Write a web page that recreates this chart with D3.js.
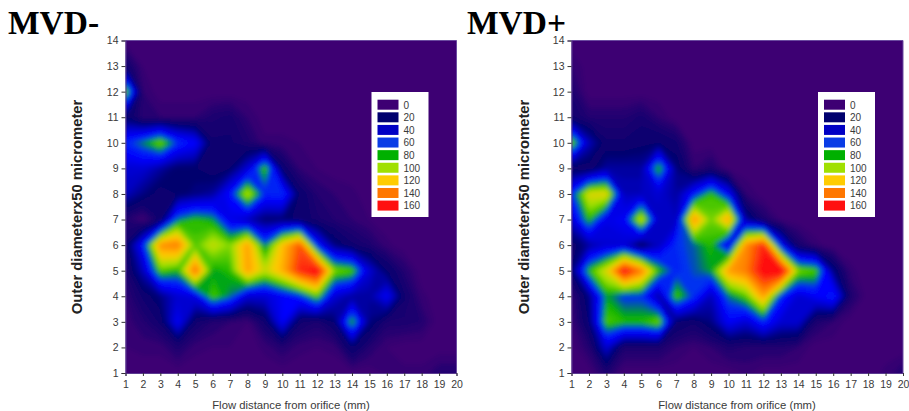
<!DOCTYPE html>
<html>
<head>
<meta charset="utf-8">
<script src="https://cdn.jsdelivr.net/npm/d3@7"></script>
<style>
  html, body { margin: 0; background: #fff; }
  svg { display: block; }
  .axis text { font-family: "Liberation Sans", sans-serif; font-size: 10.5px; fill: #3a3a3a; }
  .axis line { stroke: #333; }
  .axis path { stroke: #5a3a90; }
  .title { font-family: "Liberation Serif", serif; font-weight: bold; font-size: 33.5px; fill: #000; }
  .xlabel { font-family: "Liberation Sans", sans-serif; font-size: 11.3px; fill: #3a3a3a; text-anchor: middle; }
  .ylabel { font-family: "Liberation Sans", sans-serif; font-weight: bold; font-size: 14.8px; fill: #222; text-anchor: middle; }
  .legend text { font-family: "Liberation Sans", sans-serif; font-size: 10px; fill: #3a3a3a; }
</style>
</head>
<body>
<svg id="chart" width="909" height="411"></svg>
<script>
const xTicks = d3.range(1, 21);
const yTicks = d3.range(1, 15);

const legendValues = [0, 20, 40, 60, 80, 100, 120, 140, 160];
const legendColors = ['#3d0073', '#00006e', '#0000c4', '#0a3ce6', '#00b000', '#a0e000', '#ffcc00', '#ff7700', '#ff1010'];

// the filled surface runs brighter than the legend swatches
const fillStops = [0, 8, 20, 35, 50, 62, 75, 92, 110, 135, 158];
const fillColors = ['#3d0073', '#1c0070', '#00006e', '#0000c4', '#0000ff', '#0030f0', '#00b000', '#a0e000', '#ffcc00', '#ff7700', '#ff1010'];

// rows run from y=14 (top) to y=1, columns x=1..20
const mvdMinus = [
  [ 0, 0, 0, 0, 0, 0, 0, 0, 0, 0, 0, 0, 0, 0, 0, 0, 0, 0, 0, 0],
  [15, 2, 0, 0, 0, 0, 0, 0, 0, 0, 0, 0, 0, 0, 0, 0, 0, 0, 0, 0],
  [90, 5, 0, 0, 0, 0, 0, 0, 0, 0, 0, 0, 0, 0, 0, 0, 0, 0, 0, 0],
  [20, 6, 5, 5, 5, 10, 12, 5, 0, 0, 0, 0, 0, 0, 0, 0, 0, 0, 0, 0],
  [60, 72, 90, 62, 52, 15, 15, 10, 3, 3, 2, 0, 0, 0, 0, 0, 0, 0, 0, 0],
  [40, 40, 30, 20, 20, 15, 20, 40, 85, 18, 5, 2, 0, 0, 0, 0, 0, 0, 0, 0],
  [35, 25, 15, 20, 25, 30, 55, 100, 60, 62, 18, 8, 5, 3, 0, 0, 0, 0, 0, 0],
  [8, 0, 15, 70, 80, 75, 45, 35, 22, 22, 18, 12, 8, 5, 2, 0, 0, 0, 0, 0],
  [15, 55, 130, 135, 85, 100, 90, 125, 70, 115, 145, 55, 25, 15, 10, 3, 0, 0, 0, 0],
  [10, 35, 85, 78, 140, 75, 80, 125, 100, 120, 155, 170, 90, 85, 40, 20, 8, 0, 0, 0],
  [5, 15, 25, 40, 45, 85, 70, 40, 40, 50, 60, 85, 40, 30, 30, 50, 15, 3, 0, 0],
  [3, 8, 15, 50, 15, 8, 5, 2, 15, 50, 15, 10, 20, 80, 25, 10, 10, 8, 0, 0],
  [2, 3, 3, 10, 3, 2, 2, 0, 3, 8, 3, 2, 3, 20, 8, 2, 0, 0, 0, 0],
  [0, 0, 0, 0, 0, 0, 0, 0, 0, 0, 0, 0, 0, 0, 0, 3, 3, 3, 8, 8]
];

const mvdPlus = [
  [ 0, 0, 0, 0, 0, 0, 0, 0, 0, 0, 0, 0, 0, 0, 0, 0, 0, 0, 0, 0],
  [ 5, 0, 0, 0, 0, 0, 0, 0, 0, 0, 0, 0, 0, 0, 0, 0, 0, 0, 0, 0],
  [10, 0, 0, 0, 0, 0, 0, 0, 0, 0, 0, 0, 0, 0, 0, 0, 0, 0, 0, 0],
  [15, 8, 8, 8, 12, 5, 0, 0, 0, 0, 0, 0, 0, 0, 0, 0, 0, 0, 0, 0],
  [90, 35, 15, 15, 18, 20, 15, 0, 0, 0, 0, 0, 0, 0, 0, 0, 0, 0, 0, 0],
  [15, 15, 30, 30, 30, 82, 25, 5, 10, 0, 0, 0, 0, 0, 0, 0, 0, 0, 0, 0],
  [60, 105, 108, 35, 35, 40, 30, 55, 82, 50, 5, 0, 0, 0, 0, 0, 0, 0, 0, 0],
  [40, 80, 45, 50, 105, 35, 35, 130, 88, 125, 30, 10, 2, 0, 0, 0, 0, 0, 0, 0],
  [15, 30, 40, 40, 15, 35, 62, 68, 80, 42, 130, 155, 50, 12, 3, 0, 0, 0, 0, 0],
  [20, 80, 105, 165, 135, 80, 60, 66, 75, 125, 135, 165, 175, 90, 85, 25, 3, 0, 0, 0],
  [5, 25, 75, 62, 62, 30, 85, 62, 35, 70, 85, 125, 60, 40, 50, 60, 10, 0, 0, 0],
  [3, 20, 85, 80, 80, 90, 20, 15, 25, 50, 40, 60, 40, 40, 10, 5, 0, 0, 0, 0],
  [0, 8, 40, 10, 10, 10, 5, 2, 5, 10, 8, 8, 8, 5, 0, 0, 0, 0, 0, 0],
  [0, 0, 10, 0, 0, 0, 0, 0, 0, 0, 3, 0, 0, 0, 0, 0, 0, 0, 3, 8]
];

const svg = d3.select("#chart");
const defs = svg.append("defs");
defs.append("filter").attr("id", "soft")
  .attr("x", "-5%").attr("y", "-5%").attr("width", "110%").attr("height", "110%")
  .append("feGaussianBlur").attr("stdDeviation", 2.4);

const color = d3.scaleLinear().domain(fillStops).range(fillColors).clamp(true);
const swatch = d3.scaleOrdinal().domain(legendValues).range(legendColors);
const levels = d3.range(2, 180, 3);

function drawPanel(grid, name, opts) {
  const x = d3.scaleLinear().domain([1, 20]).range([opts.left, opts.right]);
  const y = d3.scaleLinear().domain([1, 14]).range([373, 40.5]);

  const values = grid.flat();
  const contours = d3.contours().size([20, 14]).thresholds(levels)(values);
  // grid cell i is centred on i + 0.5 in contour space
  const path = d3.geoPath(d3.geoTransform({
    point(px, py) { this.stream.point(x(px + 0.5), y(14.5 - py)); }
  }));

  const clipId = "clip-" + Math.round(opts.left);
  defs.append("clipPath").attr("id", clipId).append("rect")
    .attr("x", x(1)).attr("y", y(14))
    .attr("width", x(20) - x(1)).attr("height", y(1) - y(14));

  const plot = svg.append("g").attr("clip-path", `url(#${clipId})`)
    .append("g").attr("filter", "url(#soft)");
  plot.append("rect")
    .attr("x", x(1) - 20).attr("y", y(14) - 20)
    .attr("width", x(20) - x(1) + 40).attr("height", y(1) - y(14) + 40)
    .attr("fill", color(0));
  plot.selectAll("path").data(contours).join("path")
    .attr("d", path)
    .attr("fill", d => color(d.value));

  svg.append("g").attr("class", "axis")
    .attr("transform", `translate(0,${y(1)})`)
    .call(d3.axisBottom(x).tickValues(xTicks).tickFormat(d3.format("d")).tickSize(3).tickPadding(5));
  svg.append("g").attr("class", "axis")
    .attr("transform", `translate(${x(1)},0)`)
    .call(d3.axisLeft(y).tickValues(yTicks).tickFormat(d3.format("d")).tickSize(4).tickPadding(3));

  // thin frame on the top and right
  svg.append("path")
    .attr("d", d3.line()([[x(1), y(14)], [x(20), y(14)], [x(20), y(1)]]))
    .attr("fill", "none").attr("stroke", "#6a4aa0").attr("stroke-width", 1);

  svg.append("text").attr("class", "title").attr("x", opts.titleX).attr("y", 34).text(name);
  svg.append("text").attr("class", "xlabel").attr("x", opts.xLabelX).attr("y", 409)
    .text("Flow distance from orifice (mm)");
  svg.append("text").attr("class", "ylabel")
    .attr("transform", `translate(${opts.yLabelX},207) rotate(-90)`)
    .text("Outer diameterx50 micrometer");

  const legend = svg.append("g").attr("class", "legend")
    .attr("transform", `translate(${opts.legendX},92)`);
  legend.append("rect").attr("width", 57).attr("height", 125).attr("fill", "#fff");
  const legendY = d3.scaleBand().domain(legendValues).range([6.5, 120]);
  const rows = legend.selectAll("g").data(legendValues).join("g")
    .attr("transform", d => `translate(0,${legendY(d)})`);
  rows.append("rect").attr("x", 6).attr("y", 1.2).attr("width", 21).attr("height", 10)
    .attr("fill", d => swatch(d));
  rows.append("text").attr("x", 32).attr("y", 10).text(d => d);
}

drawPanel(mvdMinus, "MVD-", { left: 125.5, right: 456.5, titleX: 8, xLabelX: 291, yLabelX: 82, legendX: 371.5 });
drawPanel(mvdPlus, "MVD+", { left: 571.5, right: 903, titleX: 467, xLabelX: 737, yLabelX: 529, legendX: 818 });
</script>
</body>
</html>
